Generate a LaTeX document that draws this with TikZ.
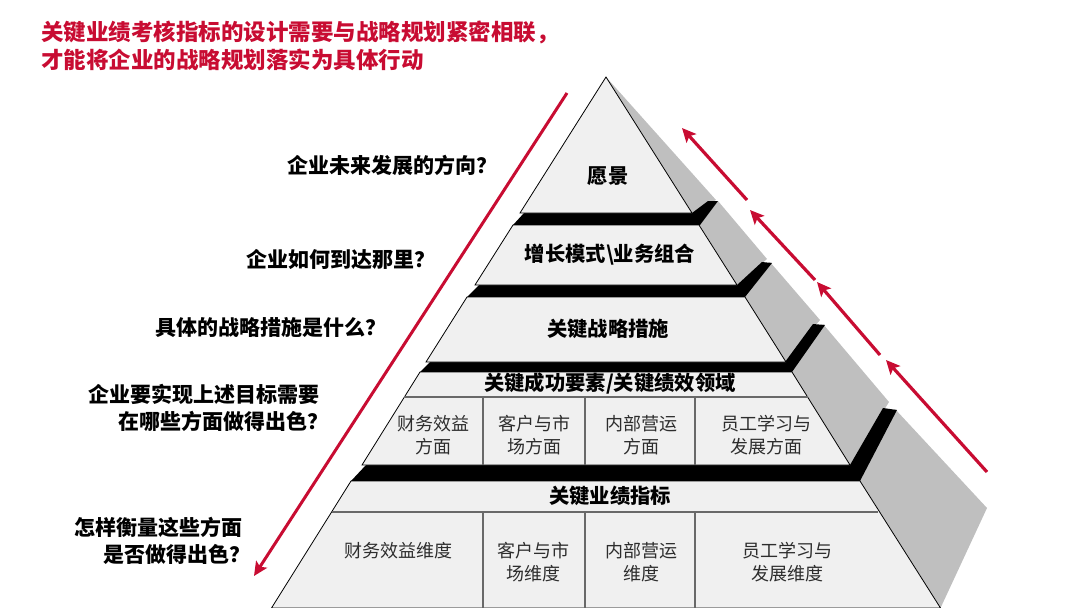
\documentclass[tikz,border=0pt]{standalone}
\usepackage{fontspec}
\setmainfont{Noto Sans CJK SC}
\usepackage{tikz}
\usetikzlibrary{arrows.meta,positioning}
\usepackage{xcolor}
\definecolor{kpired}{RGB}{200,12,50}
\definecolor{tiergrey}{RGB}{240,240,240}
\definecolor{sidegrey}{RGB}{191,191,191}
\definecolor{cellline}{RGB}{105,105,105}
\definecolor{celltext}{RGB}{45,45,45}

\begin{document}
\begin{tikzpicture}[x=1pt, y=-1pt,
    tier/.style={draw=black, line width=0.8pt, fill=tiergrey},
    side/.style={fill=sidegrey},
    band/.style={fill=black},
    grid/.style={draw=cellline, line width=1.1pt},
    head/.style={font=\fontsize{20.3}{24}\selectfont\bfseries, inner sep=0pt},
    cell/.style={font=\fontsize{18}{23}\selectfont, text=celltext, align=center, inner sep=0pt},
    ask/.style={font=\fontsize{21}{27}\selectfont\bfseries, anchor=east, align=right, inner sep=0pt},
    arr/.style={-{Stealth[length=14pt,width=13pt,inset=3pt]}, line width=3.2pt, kpired}
]
\useasboundingbox (0,0) rectangle (1080,608);

% side faces of the pyramid
\fill[side] (606,77) -- (716,200) -- (692,213) -- cycle;
\fill[side] (692,213) -- (718,201) -- (767,259) -- (737,285) -- cycle;
\fill[side] (737,285) -- (770,262) -- (820,320) -- (785,362) -- cycle;
\fill[side] (785,362) -- (823,324) -- (889,402) -- (850,465) -- cycle;
\fill[side] (850,465) -- (895,409) -- (987,508) -- (940.5,608) -- cycle;

% black steps
\fill[band] (524,213) -- (692,213) -- (708,201) -- (718,201) -- (700,225) -- (513,225) -- cycle;
\fill[band] (479,285) -- (737,285) -- (762,262) -- (772,263) -- (745,297) -- (467,297) -- cycle;
\fill[band] (430,362) -- (785,362) -- (813,324) -- (825,325) -- (792,372) -- (420,372) -- cycle;
\fill[band] (366,465) -- (850,465) -- (883,408) -- (897,410) -- (860,481) -- (351,481) -- cycle;

% tiers
\filldraw[tier] (606,77) -- (692,213) -- (520,213) -- cycle;
\filldraw[tier] (513,225) -- (699,225) -- (737,285) -- (475,285) -- cycle;
\filldraw[tier] (467,297) -- (745,297) -- (786,362) -- (426,362) -- cycle;
\filldraw[tier] (420,372) -- (792,372) -- (850,465) -- (362,465) -- cycle;
\filldraw[tier] (351,481) -- (860,481) -- (940.5,608) -- (271.5,608) -- cycle;

% cell lines
\draw[grid] (404,397) -- (808,397);
\foreach \x in {483,585,695} \draw[grid] (\x,397) -- (\x,465);
\draw[grid] (332,512) -- (878,512);
\foreach \x in {483,585,695} \draw[grid] (\x,512) -- (\x,608);

\node[head] (vision) at (608,176) {愿景};
\node[head] (growth) at (610,255) {增长模式\textbackslash{}业务组合};
\node[head] (measures) at (608,329) {关键战略措施};
\node[head] (ksf) at (610,384) {关键成功要素/关键绩效领域};
\node[head] (kpi) at (610,496) {关键业绩指标};

\node[cell] (ksfa) at (433,435) {财务效益\\方面};
\node[cell] (ksfb) at (534,435) {客户与市\\场方面};
\node[cell] (ksfc) at (641,435) {内部营运\\方面};
\node[cell] (ksfd) at (766,435) {员工学习与\\发展方面};

\node[cell] (kpia) at (398,551) {财务效益维度};
\node[cell] (kpib) at (533,562) {客户与市\\场维度};
\node[cell] (kpic) at (641,562) {内部营运\\维度};
\node[cell] (kpid) at (787,562) {员工学习与\\发展维度};

% questions on the left
\node[ask] (q1) at (498,165) {企业未来发展的方向？};
\node[ask] (q2) at (436,259) {企业如何到达那里？};
\node[ask] (q3) at (387,327) {具体的战略措施是什么？};
\node[ask] (q4) at (320,408) {企业要实现上述目标需要\\在哪些方面做得出色？\kern-9pt};
\node[ask] (q5) at (243,541) {怎样衡量这些方面\\是否做得出色？\kern-8pt};

\node[anchor=north west, align=left, inner sep=0pt, text=kpired,
      font=\fontsize{22.5}{28}\selectfont\bfseries] (title) at (41,21)
      {关键业绩考核指标的设计需要与战略规划紧密相联，\\才能将企业的战略规划落实为具体行动};

% red arrows
\coordinate (downtop) at (567,93);
\coordinate (downend) at (254,576);
\draw[arr, line width=3pt] (downtop) -- (downend);
\coordinate (u1s) at (747,200); \coordinate (u1e) at (682,128);
\coordinate (u2s) at (815,280); \coordinate (u2e) at (750,210);
\coordinate (u3s) at (880,355); \coordinate (u3e) at (817,282);
\coordinate (u4s) at (987,472); \coordinate (u4e) at (886,360);
\foreach \i in {1,...,4} \draw[arr] (u\i s) -- (u\i e);
\end{tikzpicture}
\end{document}
